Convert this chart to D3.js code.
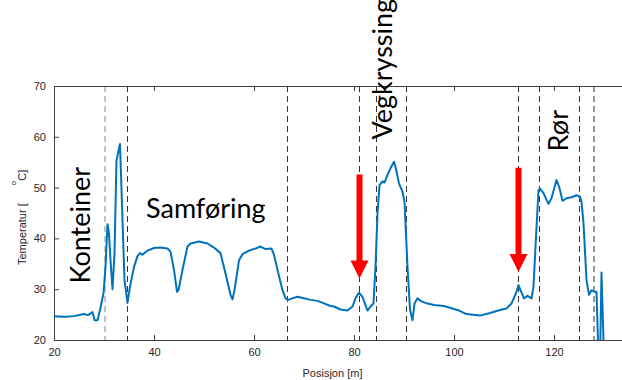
<html>
<head>
<script src="https://d3js.org/d3.v7.min.js"></script>
<style>
  body { margin: 0; background: #fff; }
  svg { font-family: "Liberation Sans", Arial, sans-serif; }
  .tick text { fill: #262626; font-size: 11px; }
  .big { font-family: Lato, "Open Sans", sans-serif; font-size: 27px; fill: #000; }
</style>
</head>
<body>
<svg id="chart"></svg>
<script>
// position along the pipe [m] and measured temperature [°C]
const posisjon = [20.0, 22.0, 24.0, 26.0, 26.8, 27.7, 28.1, 28.7, 29.2, 29.9, 30.3, 30.7, 31.0, 31.3, 31.7,
  32.1, 32.5, 33.2, 33.7, 34.1, 34.7, 35.2, 36.0, 36.7, 37.2, 37.7, 38.7, 40.0, 41.3, 42.7, 43.3, 44.0,
  44.6, 44.9, 45.7, 46.7, 47.3, 49.0, 50.7, 52.0, 53.3, 54.3, 55.3, 55.7, 56.1, 57.0, 57.7, 59.0, 60.3,
  61.3, 62.3, 63.5, 64.0, 64.7, 65.7, 66.3, 66.8, 67.7, 68.7, 70.0, 71.3, 72.7, 74.0, 75.3, 76.0, 77.3,
  78.7, 79.7, 80.3, 81.0, 81.7, 82.7, 83.3, 83.9, 84.3, 84.7, 85.1, 85.7, 86.1, 86.7, 87.3, 88.0, 88.3,
  89.0, 89.7, 90.1, 90.7, 91.2, 91.7, 92.1, 92.7, 93.3, 94.3, 96.0, 98.0, 99.7, 101.0, 102.5, 105.2,
  107.2, 109.2, 110.5, 111.5, 112.4, 112.9, 113.3, 114.0, 114.7, 115.5, 115.9, 116.4, 116.9, 117.2,
  117.9, 118.9, 119.5, 120.5, 121.1, 121.7, 122.5, 123.5, 124.5, 125.2, 125.5, 125.9, 126.5, 127.0,
  127.5, 128.0, 128.5, 129.1, 129.5, 130.2];
const temperatur = [24.7, 24.6, 24.7, 25.1, 24.9, 25.5, 23.9, 23.9, 25.9, 29.2, 34.4, 42.8, 41.0, 35.7, 30.0,
  37.0, 55.4, 58.6, 43.6, 31.8, 27.3, 30.5, 34.4, 36.5, 37.1, 36.8, 37.6, 38.1, 38.2, 38.0, 37.4, 33.8,
  29.5, 29.8, 33.8, 38.4, 39.0, 39.4, 39.0, 38.2, 37.1, 33.1, 28.9, 28.0, 29.8, 35.7, 36.9, 37.6, 38.0,
  38.4, 37.9, 38.0, 36.8, 33.8, 29.8, 28.2, 27.9, 28.2, 28.5, 28.2, 27.9, 27.7, 27.2, 26.7, 26.6, 26.0,
  25.8, 26.6, 28.2, 29.3, 28.5, 25.8, 26.6, 27.2, 34.4, 44.9, 50.5, 51.2, 51.0, 52.5, 53.8, 55.1, 54.1,
  50.8, 49.2, 47.2, 34.4, 25.9, 23.9, 27.2, 28.2, 27.7, 27.3, 26.9, 26.7, 26.2, 25.8, 25.1, 24.8,
  25.3, 25.9, 26.2, 27.2, 29.2, 30.8, 29.8, 28.2, 28.7, 28.2, 30.5, 40.3, 49.5, 49.8,
  48.9, 46.8, 47.9, 51.5, 49.9, 47.4, 47.9, 48.1, 48.5, 48.2, 47.2, 43.0, 31.8, 28.9,
  29.8, 29.5, 29.5, 10.0, 33.3, 10.0];

// section borders (dashed)
const skiller = [30.2, 34.7, 66.7, 81.1, 84.5, 90.5, 112.9, 117.1, 125.1, 128.0];

// red arrows: x, top of shaft, tip
const pilX = [81.1, 112.9];
const pilTopp = [52.6, 53.9];
const pilSpiss = [32.1, 33.4];

const xTicks = [20, 40, 60, 80, 100, 120];
const yTicks = [20, 30, 40, 50, 60, 70];

const width = 622, height = 380;
const svg = d3.select("#chart").attr("width", width).attr("height", height);

const x = d3.scaleLinear().domain([20, 140]).range([54, 654]);
const y = d3.scaleLinear().domain([20, 70]).range([340, 86]);

svg.append("defs").append("clipPath").attr("id", "plotclip")
  .append("rect").attr("x", 54).attr("y", 86).attr("width", 600).attr("height", 254);

// dashed section lines
svg.append("g").selectAll("line")
  .data(skiller)
  .join("line")
  .attr("x1", d => x(d)).attr("x2", d => x(d))
  .attr("y1", y(70)).attr("y2", y(20))
  .attr("stroke", (d, i) => i === 0 ? "#8a8a8a" : "#333")
  .attr("stroke-width", 1)
  .attr("stroke-dasharray", "6,4");

// axes (MATLAB style, ticks inward, box on)
const axisColor = "#404040";
const gx = svg.append("g").attr("transform", `translate(0,${y(20)})`)
  .call(d3.axisBottom(x).tickValues(xTicks).tickSize(-5).tickPadding(9));
const gxTop = svg.append("g").attr("transform", `translate(0,${y(70)})`)
  .call(d3.axisTop(x).tickValues(xTicks).tickSize(-5).tickFormat(""));
const gy = svg.append("g").attr("transform", `translate(${x(20)},0)`)
  .call(d3.axisLeft(y).tickValues(yTicks).tickSize(-5).tickPadding(8));
[gx, gxTop, gy].forEach(g => {
  g.select(".domain").attr("stroke", axisColor);
  g.selectAll(".tick line").attr("stroke", axisColor);
});
gx.selectAll(".tick text").attr("dy", "0.6em");

// temperature curve
const line = d3.line().x((d, i) => x(posisjon[i])).y(d => y(d));
svg.append("path")
  .datum(temperatur)
  .attr("clip-path", "url(#plotclip)")
  .attr("d", line)
  .attr("fill", "none")
  .attr("stroke", "#0072BD")
  .attr("stroke-width", 2)
  .attr("stroke-linejoin", "round");

// red arrows
pilX.forEach((px, i) => {
  const cx = x(px), top = y(pilTopp[i]), tip = y(pilSpiss[i]);
  const head = 18, sw = 3, hw = 9;
  const p = d3.path();
  p.moveTo(cx - sw, top);
  p.lineTo(cx + sw, top);
  p.lineTo(cx + sw, tip - head);
  p.lineTo(cx + hw, tip - head);
  p.lineTo(cx, tip);
  p.lineTo(cx - hw, tip - head);
  p.lineTo(cx - sw, tip - head);
  p.closePath();
  svg.append("path").attr("d", p.toString()).attr("fill", "#ff0000");
});

// section names
const navn = ["Konteiner", "Vegkryssing", "Rør"];
const navnX = [27.2, 87.6, 122.7];
const navnY = [42.6, 73.3, 61.2];
navn.forEach((t, i) => {
  svg.append("text").attr("class", "big")
    .attr("transform", `translate(${x(navnX[i])},${y(navnY[i])}) rotate(-90)`)
    .attr("text-anchor", "middle")
    .text(t);
});
svg.append("text").attr("class", "big")
  .attr("x", x(38.4)).attr("y", y(44.0))
  .text("Samføring");

// axis labels
svg.append("text")
  .attr("x", x(75.7)).attr("y", 377)
  .attr("text-anchor", "middle")
  .attr("font-size", 11).attr("fill", "#262626")
  .text("Posisjon [m]");

const yl = svg.append("text")
  .attr("transform", "translate(26,265) rotate(-90)")
  .attr("font-size", 11).attr("fill", "#262626");
yl.append("tspan").text("Temperatur [");
yl.append("tspan").attr("dx", 18).attr("dy", -10).attr("font-size", 8).text("o");
yl.append("tspan").attr("dy", 10).text("C]");
</script>
</body>
</html>
